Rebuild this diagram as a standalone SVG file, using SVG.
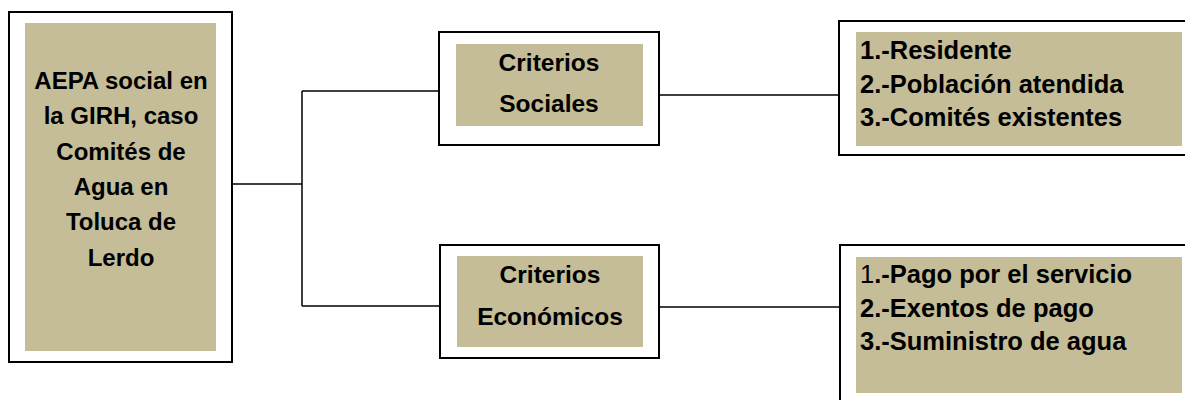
<svg xmlns="http://www.w3.org/2000/svg" width="1185" height="400" viewBox="0 0 1185 400">
<style>
.frame{fill:#ffffff;stroke:#000000;stroke-width:2}
.fill{fill:#c4bd97;stroke:none}
.t{font-family:"Liberation Sans",Arial,sans-serif;font-weight:bold;fill:#000000}
.c{text-anchor:middle}
.conn{stroke:#000000;stroke-width:1.5;fill:none}
</style>
<rect width="1185" height="400" fill="#ffffff"/>
<g id="connectors">
<path class="conn" d="M232,184 H302 M302,91 V306 M302,91 H439 M302,306 H440"/>
<path class="conn" d="M659,95 H839 M659,307 H840"/>
</g>
<g id="root">
<rect class="frame" x="9" y="12" width="223" height="350"/>
<rect class="fill" x="25" y="23" width="191" height="328"/>
<text class="t c" font-size="24" x="121" y="89">AEPA social en</text>
<text class="t c" font-size="24" x="121" y="124">la GIRH, caso</text>
<text class="t c" font-size="24" x="121" y="160">Comités de</text>
<text class="t c" font-size="24" x="121" y="195">Agua en</text>
<text class="t c" font-size="24" x="121" y="230">Toluca de</text>
<text class="t c" font-size="24" x="121" y="266">Lerdo</text>
</g>
<g id="sociales">
<rect class="frame" x="439" y="32" width="220" height="113"/>
<rect class="fill" x="456" y="44" width="187" height="82"/>
<text class="t c" font-size="24.5" x="549" y="71">Criterios</text>
<text class="t c" font-size="24.5" x="549" y="112">Sociales</text>
</g>
<g id="economicos">
<rect class="frame" x="440" y="245" width="219" height="113"/>
<rect class="fill" x="457" y="256" width="186" height="91"/>
<text class="t c" font-size="24.5" x="550" y="283">Criterios</text>
<text class="t c" font-size="24.5" x="550" y="325">Económicos</text>
</g>
<g id="lista-sociales">
<rect class="frame" x="839" y="21" width="360" height="134"/>
<rect class="fill" x="856" y="32" width="326" height="114"/>
<text class="t" font-size="25.5" x="860" y="59">1.-Residente</text>
<text class="t" font-size="25.5" x="860" y="93">2.-Población atendida</text>
<text class="t" font-size="25.5" x="860" y="126">3.-Comités existentes</text>
</g>
<g id="lista-economicos">
<rect class="frame" x="840" y="245" width="360" height="170"/>
<rect class="fill" x="856" y="257" width="326" height="136"/>
<text class="t" font-size="25.5" x="860" y="283"><tspan font-weight="normal">1</tspan>.-Pago por el servicio</text>
<text class="t" font-size="25.5" x="860" y="317">2.-Exentos de pago</text>
<text class="t" font-size="25.5" x="860" y="350">3.-Suministro de agua</text>
</g>
</svg>
